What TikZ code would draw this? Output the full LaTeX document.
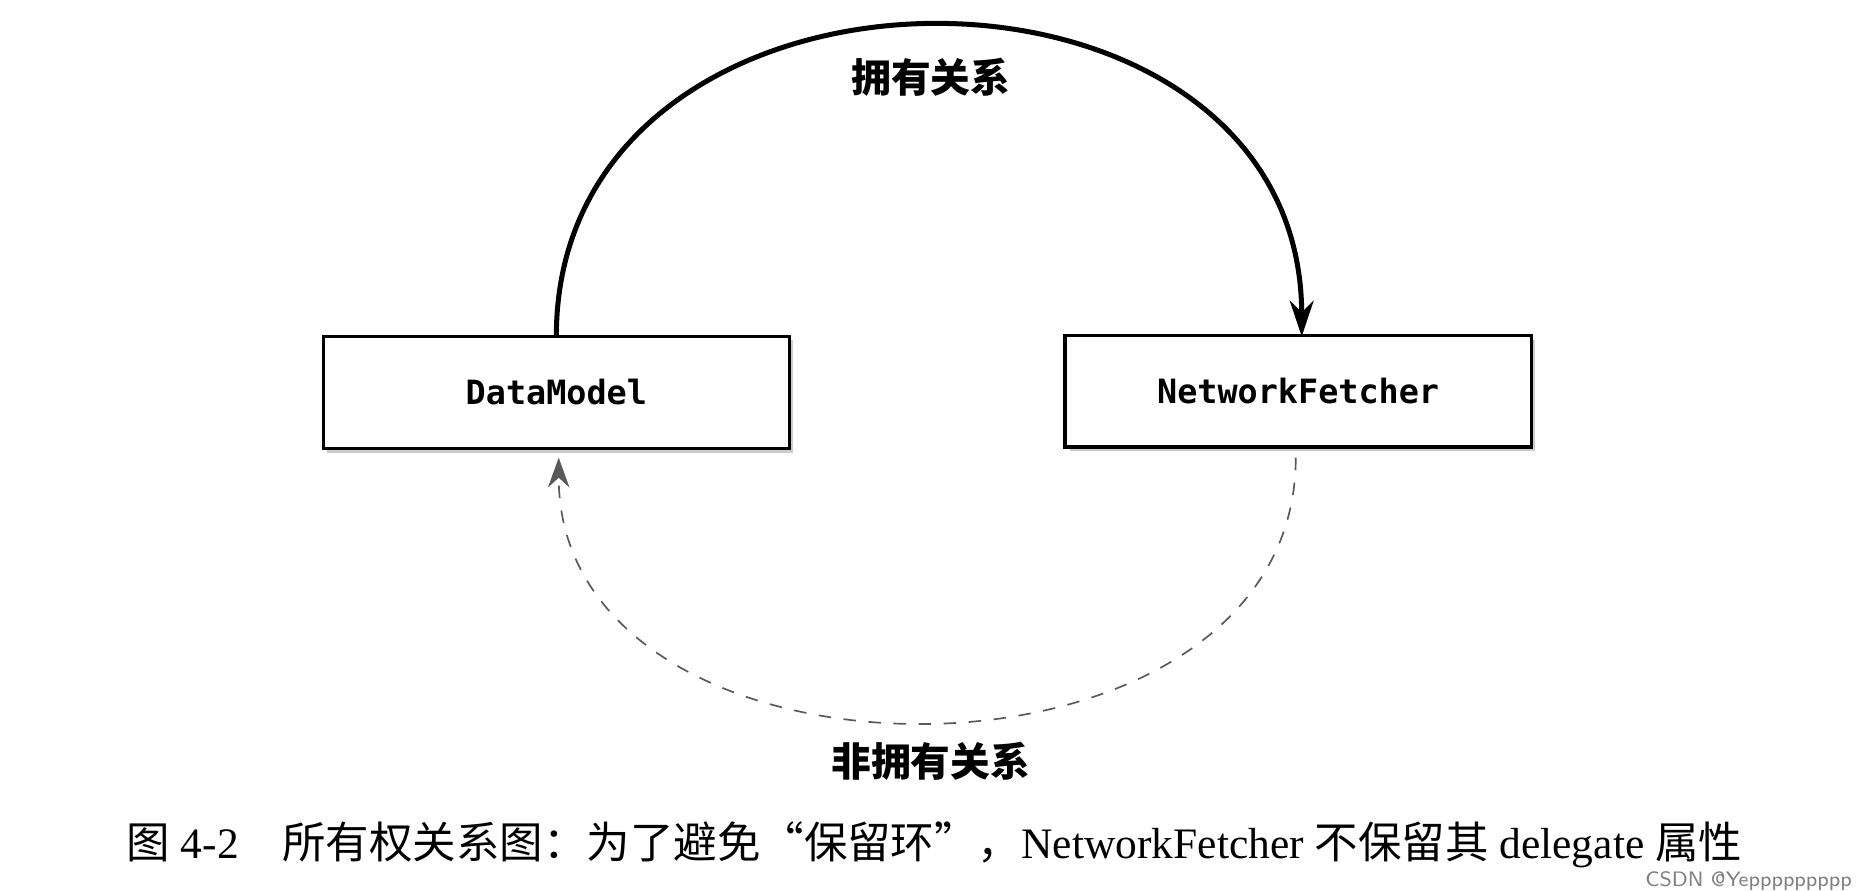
\documentclass[tikz,border=0pt]{standalone}
\usepackage{fontspec}
\setmainfont{Liberation Serif}
\setmonofont{DejaVu Sans Mono}
\newfontfamily\cjk{Noto Sans CJK SC}
\usetikzlibrary{arrows.meta}
\tikzset{box/.style={draw, thick, fill=white, minimum width=3.92cm, minimum height=0.94cm, font=\ttfamily\bfseries\fontsize{8}{10}\selectfont},
         lbl/.style={font=\cjk\bfseries\fontsize{9.5}{11}\selectfont}}

\begin{document}
\begin{tikzpicture}[x=0.01cm,y=-0.01cm]
                    \useasboundingbox (0,0) rectangle (1568,749);
                    % the two objects
                    \fill[gray!40] (275,286) rectangle (667,381);
                    \fill[gray!40] (900,286) rectangle (1291,379);
                    \node[box] (model) at (468,330) {DataModel};
                    \node[box] (fetcher) at (1092,329) {NetworkFetcher};
                    \coordinate (mtop) at (468,283);
                    \coordinate (ftop) at (1095,283);
                    \coordinate (fbot) at (1090,385);
                    \coordinate (mbot) at (470,385);

                    \draw[arrows = {-Stealth[length=3mm,width=2mm]},very thick] (mtop) .. controls (468,-65) and (1095,-65) .. (ftop);
                    \node[lbl] (own) at (783,65) {拥有关系};

                    \draw[arrows = {-Stealth[length=2.5mm,width=1.8mm]},dashed,gray!70!black] (fbot) .. controls (1090,681) and (470,681) .. (mbot);
                    \node[lbl] (weak) at (783,640) {非拥有关系};

                    \node[font=\fontsize{10.4}{12}\selectfont] (cap) at (786,711) {{\cjk 图} 4-2\quad{\cjk 所有权关系图：为了避免“保留环”，}NetworkFetcher {\cjk 不保留其} delegate {\cjk 属性}};
                    \node[font=\sffamily\fontsize{5}{6}\selectfont, text=gray, anchor=east, inner sep=1pt] (mark) at (1562,741) {CSDN @Yeppppppppp};
                \end{tikzpicture}
\end{document}
